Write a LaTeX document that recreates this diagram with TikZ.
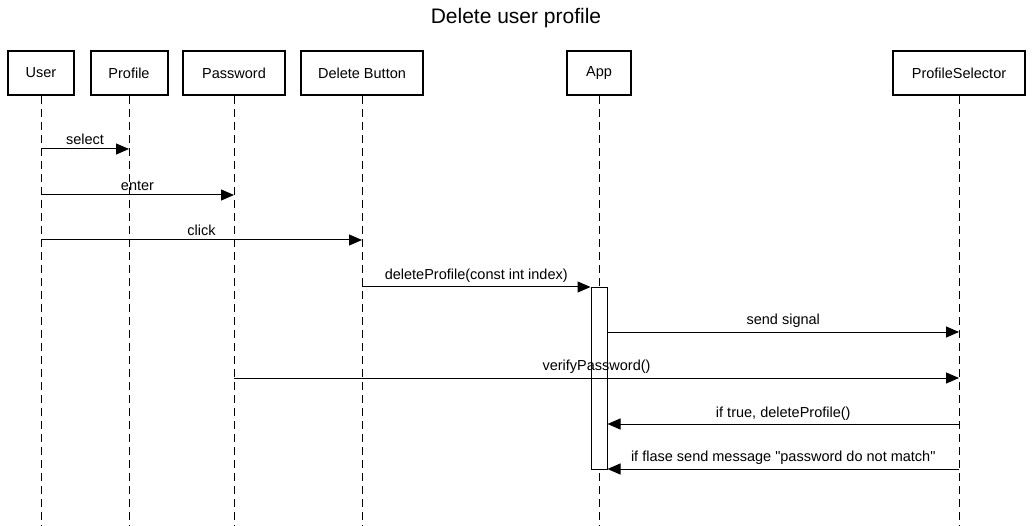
\documentclass[tikz,border=0pt]{standalone}
\usepackage{fontspec}
\setmainfont{Liberation Sans}[Ligatures=TeXOff]
\usetikzlibrary{arrows.meta,calc}
\begin{document}
\begin{tikzpicture}[x=1pt,y=-1pt,
  actor/.style={draw,line width=2pt,minimum height=44pt,inner sep=0pt,font=\fontsize{14.5}{17}\selectfont},
  life/.style={line width=1pt,dash pattern=on 8pt off 5pt},
  msg/.style={line width=1pt,-{Triangle[length=13pt,width=11pt]}},
  lbl/.style={font=\fontsize{14.5}{17}\selectfont,above,inner sep=3.5pt}]
\useasboundingbox (0,0) rectangle (1032,526);
\node[font=\fontsize{21}{25}\selectfont] (title) at (516,18) {Delete user profile};
\node[actor,minimum width=66pt] (user) at (41,73) {User};
\node[actor,minimum width=77pt] (profile) at (129,73) {Profile};
\node[actor,minimum width=102pt] (password) at (234,73) {Password};
\node[actor,minimum width=122pt] (delbtn) at (362,73) {Delete Button};
\node[actor,minimum width=64pt] (app) at (599,73) {App};
\node[actor,minimum width=132pt] (psel) at (959,73) {ProfileSelector};
\foreach \n in {user,profile,password,delbtn,app,psel}{
  \coordinate (\n-end) at (\n.south |- 0,526);
  \draw[life] (\n.south) -- (\n-end);
}
\node[draw,line width=1pt,fill=white,minimum width=16pt,minimum height=182pt,inner sep=0pt,anchor=north] (act) at (599,287) {};
% message points
\coordinate (m1a) at (user.south |- 0,149); \coordinate (m1b) at (profile.south |- 0,149);
\coordinate (m2a) at (user.south |- 0,195); \coordinate (m2b) at (password.south |- 0,195);
\coordinate (m3a) at (user.south |- 0,240); \coordinate (m3b) at (delbtn.south |- 0,240);
\coordinate (m4a) at (delbtn.south |- 0,287); \coordinate (m4b) at (act.west |- 0,287);
\coordinate (m5a) at (act.east |- 0,332); \coordinate (m5b) at (psel.south |- 0,332);
\coordinate (m6a) at (password.south |- 0,378); \coordinate (m6b) at (psel.south |- 0,378);
\coordinate (m7a) at (psel.south |- 0,424); \coordinate (m7b) at (act.east |- 0,424);
\coordinate (m8a) at (psel.south |- 0,469); \coordinate (m8b) at (act.east |- 0,469);
\draw[msg] (m1a) -- node[lbl]{select} (m1b);
\draw[msg] (m2a) -- node[lbl]{enter} (m2b);
\draw[msg] (m3a) -- node[lbl]{click} (m3b);
\draw[msg] (m4a) -- node[lbl]{deleteProfile(const int index)} (m4b);
\draw[msg] (m5a) -- node[lbl]{send signal} (m5b);
\draw[msg] (m6a) -- node[lbl]{verifyPassword()} (m6b);
\draw[msg] (m7a) -- node[lbl]{if true, deleteProfile()} (m7b);
\draw[msg] (m8a) -- node[lbl]{if flase send message "password do not match"} (m8b);
\end{tikzpicture}
\end{document}
